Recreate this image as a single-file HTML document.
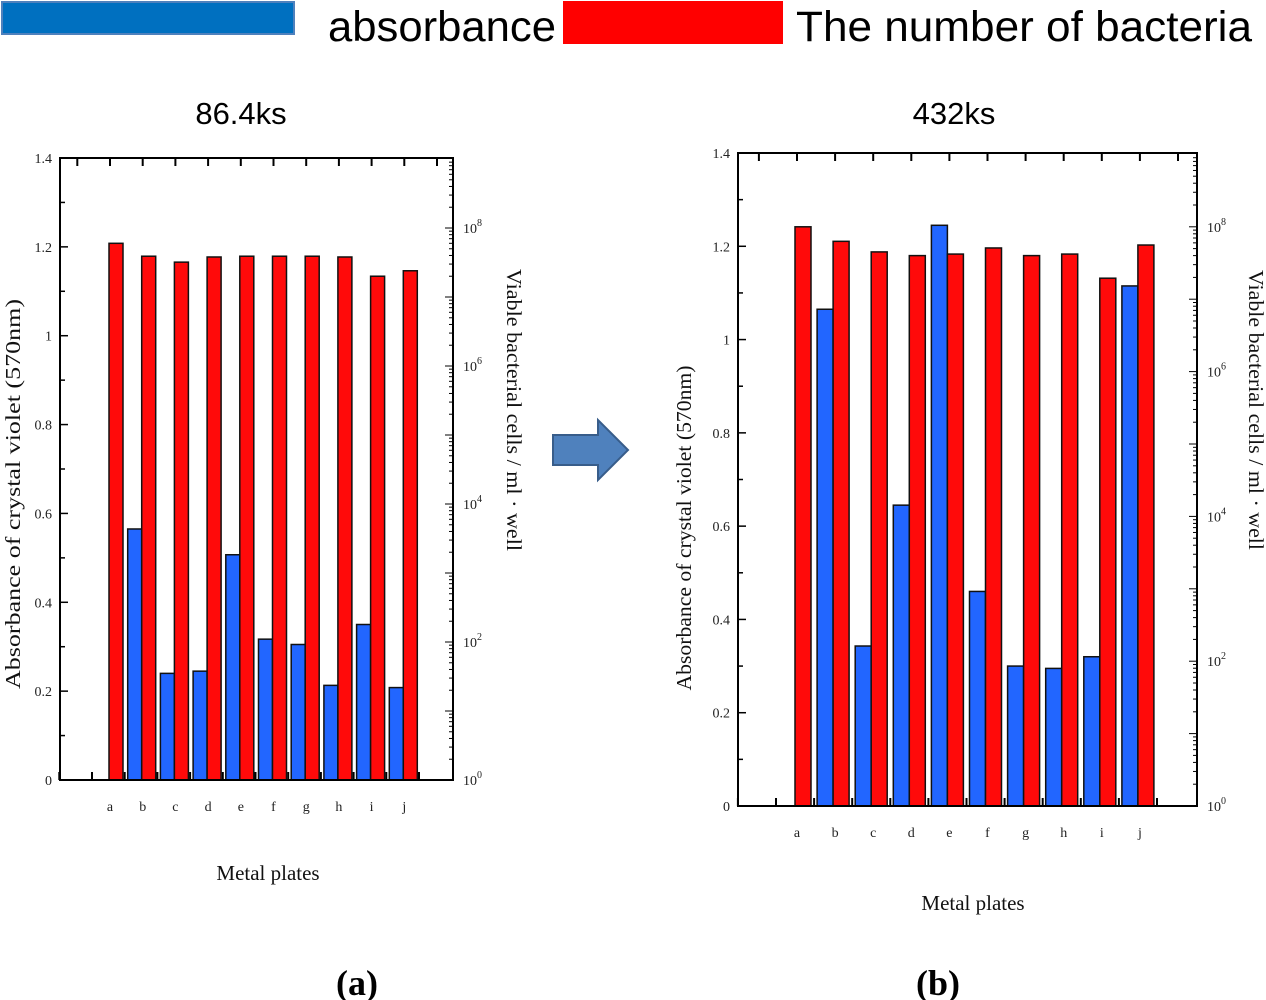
<!DOCTYPE html>
<html><head><meta charset="utf-8"><style>
body{margin:0;background:#fff;width:1266px;height:1000px;overflow:hidden}
svg{display:block}
.tk{font-family:"Liberation Serif",serif;font-size:14px;fill:#222}
.ax{font-family:"Liberation Serif",serif;font-size:21px;fill:#111}
.sans{font-family:"Liberation Sans",sans-serif;fill:#000}
</style></head><body>
<svg id="svg" width="1266" height="1000" xmlns="http://www.w3.org/2000/svg">
<rect x="2" y="2" width="292" height="32" fill="#0070c0" stroke="#4f81bd" stroke-width="2"/>
<text x="328" y="41" class="sans" font-size="43" textLength="228" lengthAdjust="spacingAndGlyphs">absorbance</text>
<rect x="563" y="1" width="220" height="43" fill="#ff0000"/>
<text x="796" y="41" class="sans" font-size="43" textLength="456" lengthAdjust="spacingAndGlyphs">The number of bacteria</text>
<text x="241" y="124" class="sans" font-size="31" text-anchor="middle">86.4ks</text>
<text x="954" y="124" class="sans" font-size="31" text-anchor="middle">432ks</text>
<path d="M553,435 L598,435 L598,420 L628,450 L598,480 L598,465 L553,465 Z" fill="#4f81bd" stroke="#385d8a" stroke-width="2"/>
<text x="357" y="995" font-family="Liberation Serif,serif" font-weight="bold" font-size="36" text-anchor="middle">(a)</text>
<text x="938" y="995" font-family="Liberation Serif,serif" font-weight="bold" font-size="36" text-anchor="middle">(b)</text>
</svg>
<script>
const categories=['a','b','c','d','e','f','g','h','i','j'];
const absA=[null,0.565,0.24,0.245,0.507,0.317,0.305,0.213,0.35,0.208];
const bacA=[6.0e7,3.9e7,3.2e7,3.8e7,3.9e7,3.9e7,3.9e7,3.8e7,2.0e7,2.4e7];
const absB=[null,1.065,0.343,0.645,1.245,0.46,0.3,0.295,0.32,1.115];
const bacB=[1.0e8,6.3e7,4.5e7,4.0e7,4.2e7,5.1e7,4.0e7,4.2e7,1.95e7,5.6e7];
const yTicks=['0','0.2','0.4','0.6','0.8','1','1.2','1.4'];
const logTicks=[0,2,4,6,8];
const svg=document.getElementById('svg');
const NS='http://www.w3.org/2000/svg';
function mk(tag,attrs,parent){const e=document.createElementNS(NS,tag);for(const k in attrs)e.setAttribute(k,attrs[k]);(parent||svg).appendChild(e);return e;}
function panel(p){
  const g=mk('g',{});
  
  
  const yL=v=>p.bottom-(v/1.4)*(p.bottom-p.top);
  const yR=v=>p.bottom-Math.log10(v)*p.dec;
  const xC=i=>p.x0+i*p.step;
  categories.forEach((c,i)=>{
    if(p.abs[i]!=null){const y=yL(p.abs[i]);
      const b=mk('rect',{x:xC(i)-p.bw,y:y,width:p.bw,height:p.bottom-y,fill:'#2266ff',stroke:'#111','stroke-width':1.5},g);
      
      }
    const y2=yR(p.bac[i]);
    const r=mk('rect',{x:xC(i),y:y2,width:p.bw,height:p.bottom-y2,fill:'#ff0a0a',stroke:'#111','stroke-width':1.5},g);
    
    
    const t=mk('text',{x:xC(i)+p.lo,y:p.bottom+31,'text-anchor':'middle',class:'tk','font-size':15},g);t.textContent=c;
    
    
  });
  const f=mk('rect',{x:p.left,y:p.top,width:p.right-p.left,height:p.bottom-p.top,fill:'none',stroke:'#000','stroke-width':2},g);
  
  
  for(let k=0;k<=14;k++){const y=yL(k*0.1);mk('line',{x1:p.left,x2:p.left+(k%2?5:8),y1:y,y2:y,stroke:'#000','stroke-width':1.5},g);}
  yTicks.forEach(s=>{const t=mk('text',{x:p.left-8,y:yL(+s)+5,'text-anchor':'end',class:'tk'},g);t.textContent=s;
    
    });
  for(let i=-1;i<=categories.length;i++){const x=xC(i)+p.lo;mk('line',{x1:x,x2:x,y1:p.top,y2:p.top+8,stroke:'#000','stroke-width':2},g);
    mk('line',{x1:xC(i)-p.bw-3,x2:xC(i)-p.bw-3,y1:p.bottom,y2:p.bottom-8,stroke:'#000','stroke-width':2},g);}
  for(let d=0;d<9;d++){for(let m=1;m<10;m++){const y=p.bottom-(d+Math.log10(m))*p.dec;if(y<p.top)continue;
    mk('line',{x1:p.right,x2:p.right-(m==1?8:4),y1:y,y2:y,stroke:'#000','stroke-width':1},g);}}
  logTicks.forEach(e=>{const y=p.bottom-e*p.dec;const t=mk('text',{x:p.right+10,y:y+5,class:'tk'},g);
    t.textContent='10';const s=mk('tspan',{dy:-7,'font-size':10},t);s.textContent=e;
    
    });
  const yt=mk('text',{x:0,y:0,class:'ax','font-size':p.fs,'text-anchor':'middle',textLength:p.ylLen,lengthAdjust:'spacingAndGlyphs',transform:`translate(${p.ylx},${p.yly}) rotate(-90)`},g);
  yt.textContent='Absorbance of crystal violet (570nm)';
  
  
  const y2=mk('text',{x:0,y:0,class:'ax','font-size':p.fs,'text-anchor':'middle',textLength:p.yrLen,lengthAdjust:'spacingAndGlyphs',transform:`translate(${p.yrx},${p.yry}) rotate(90)`},g);
  y2.textContent='Viable bacterial cells / ml · well';
  
  
  const xt=mk('text',{x:p.xtx,y:p.xty,class:'ax','font-size':p.fs,'text-anchor':'middle'},g);
  xt.textContent='Metal plates';
  
  
}
panel({id:'a',abs:absA,bac:bacA,left:60,right:453,top:158,bottom:780,dec:69,x0:109,step:32.7,bw:14,lo:1,fs:23,ylLen:390,yrLen:282,ylx:20,yly:494,yrx:507,yry:410,xtx:268,xty:880});
panel({id:'b',abs:absB,bac:bacB,left:738,right:1197,top:153,bottom:806,dec:72.4,x0:795,step:38.1,bw:16,lo:2,fs:22,ylLen:325,yrLen:280,ylx:691,yly:528,yrx:1249,yry:410,xtx:973,xty:910});
</script>
</body></html>
